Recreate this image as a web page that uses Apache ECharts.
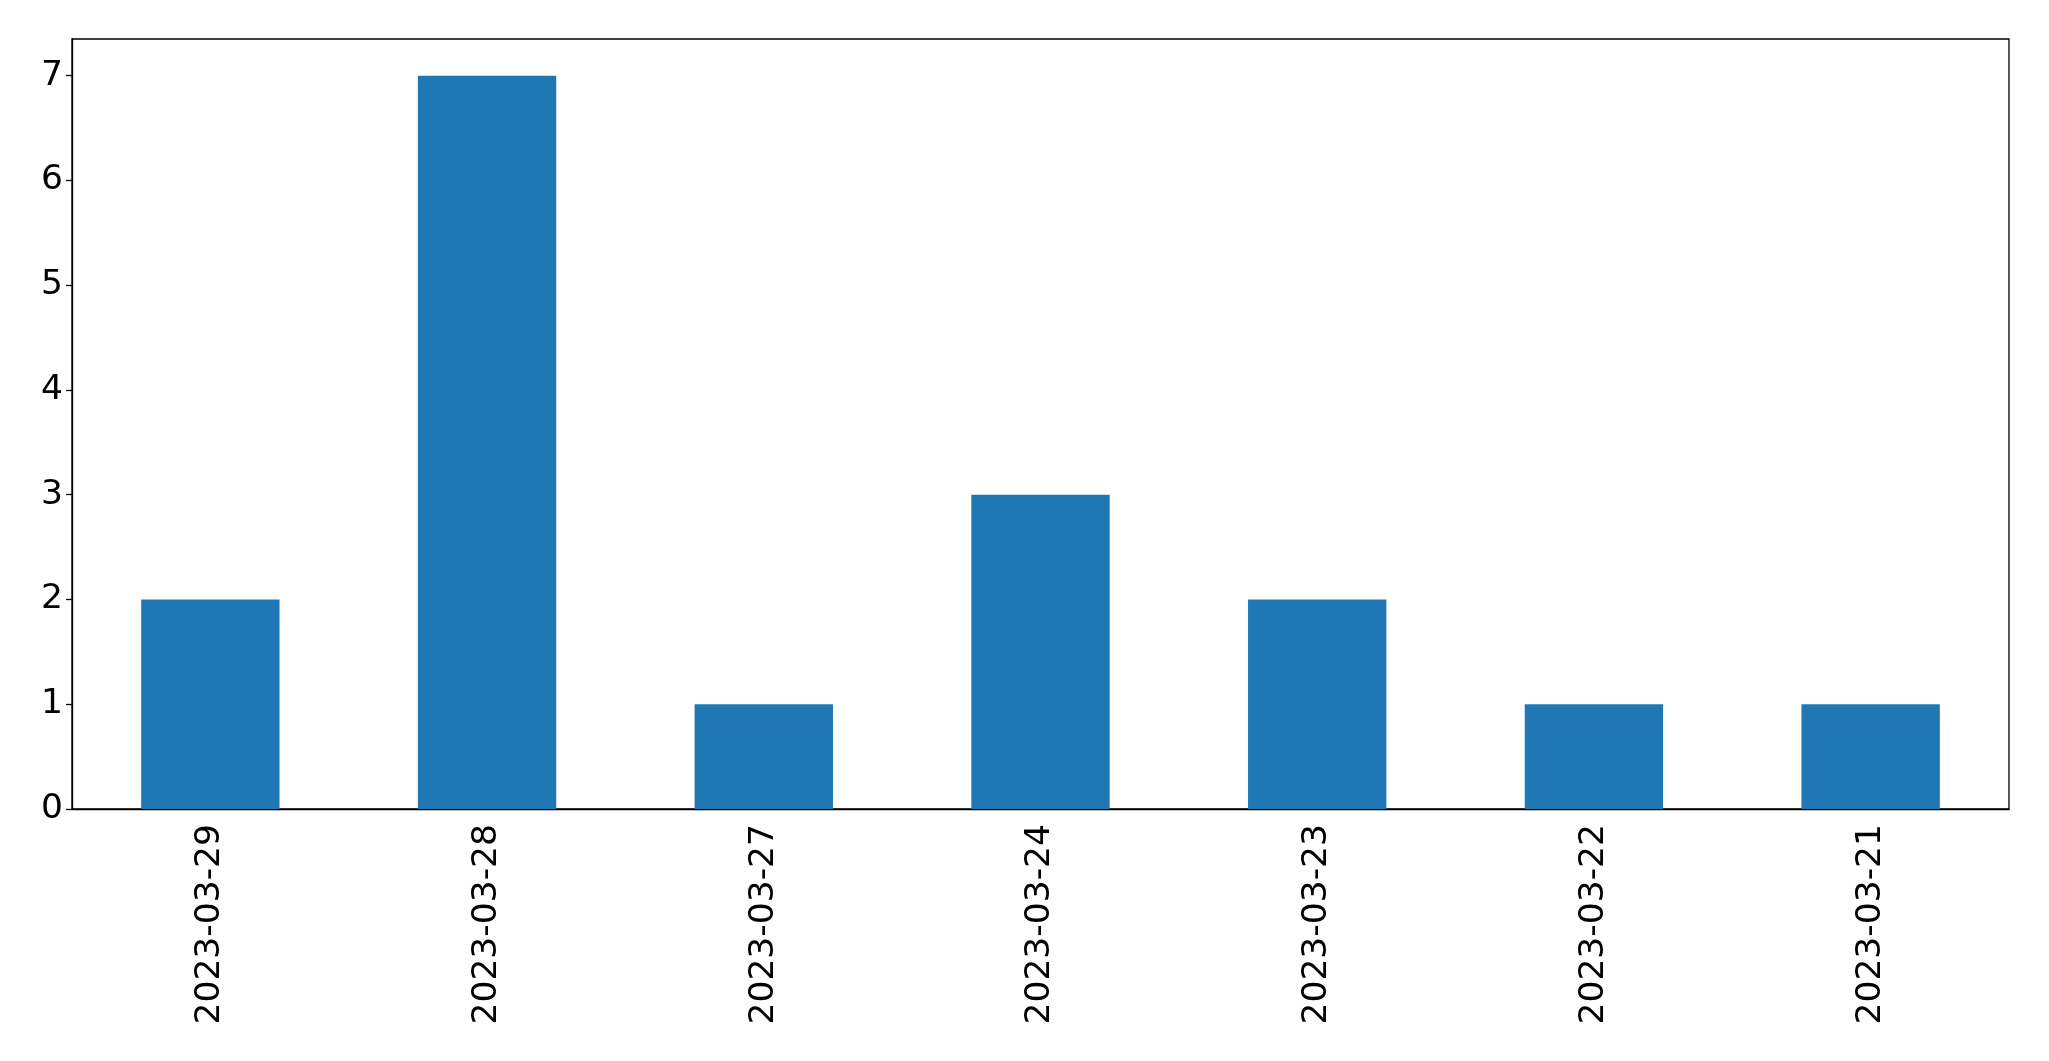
<!DOCTYPE html>
<html><head><meta charset="utf-8">
<script src="https://cdn.jsdelivr.net/npm/echarts@6/dist/echarts.min.js"></script>
<style>html,body{margin:0;padding:0;background:#fff;}#c{width:2049px;height:1061px;}</style>
</head><body><div id="c"></div>
<script>
const categories = ["2023-03-29","2023-03-28","2023-03-27","2023-03-24","2023-03-23","2023-03-22","2023-03-21"];
const values = [2, 7, 1, 3, 2, 1, 1];
const yTicks = [0, 1, 2, 3, 4, 5, 6, 7];

const chart = echarts.init(document.getElementById('c'), null, {renderer: 'canvas'});
const font = 'DejaVu Sans';
chart.setOption({
  animation: false,
  backgroundColor: '#fff',
  grid: {left: 72, right: 40, top: 39, bottom: 252, show: true, borderColor: '#000', borderWidth: 1.3, backgroundColor: 'transparent'},
  xAxis: {
    type: 'category', data: categories, boundaryGap: true,
    axisLine: {lineStyle: {color: '#000', width: 1.3}},
    axisTick: {alignWithLabel: true, length: 6, lineStyle: {color: '#000', width: 1.3}},
    axisLabel: {rotate: 90, margin: 15, color: '#000', fontSize: 34.5, fontFamily: font, interval: 0}
  },
  yAxis: {
    type: 'value', min: 0, max: 7.35, interval: 1,
    axisLine: {show: true, lineStyle: {color: '#000', width: 1.3}},
    axisTick: {show: true, length: 6, lineStyle: {color: '#000', width: 1.3}},
    splitLine: {show: false},
    axisLabel: {margin: 9, color: '#000', fontSize: 34.5, fontFamily: font, showMaxLabel: false,
      formatter: v => (yTicks.indexOf(v) >= 0 ? String(v) : '')}
  },
  series: [{type: 'bar', data: values, barWidth: '50%', itemStyle: {color: '#1f77b4'}}]
});
</script></body></html>
